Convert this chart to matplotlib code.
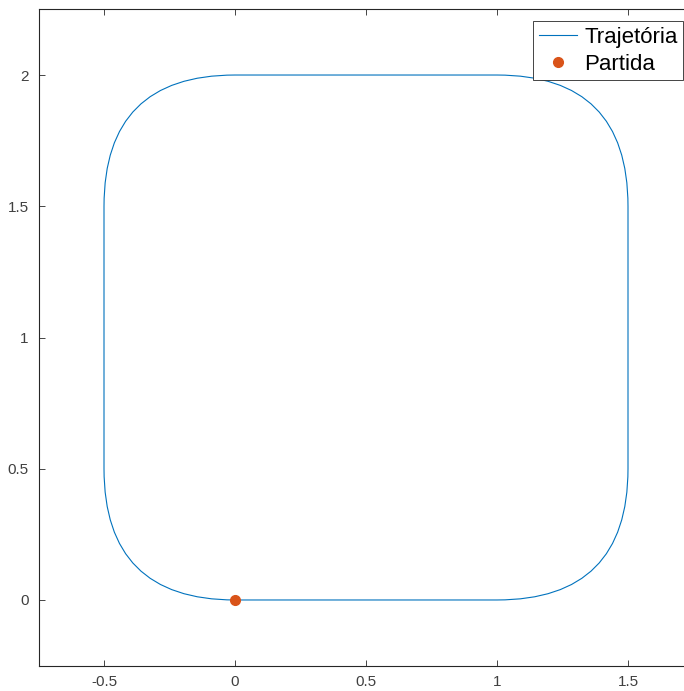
import matplotlib
matplotlib.use("Agg")
import matplotlib.pyplot as plt
from matplotlib.patches import FancyBboxPatch
from matplotlib.lines import Line2D

plt.rcParams['font.family'] = ['Liberation Sans', 'DejaVu Sans']

# trajectory: rounded square (corner, size, corner radius)
box_x0, box_y0 = -0.5, 0.0
box_w, box_h = 2.0, 2.0
corner_r = 0.5
start_x = [0.0]
start_y = [0.0]

xticks = [-0.5, 0, 0.5, 1, 1.5]
xticklabels = ['-0.5', '0', '0.5', '1', '1.5']
yticks = [0, 0.5, 1, 1.5, 2]
yticklabels = ['0', '0.5', '1', '1.5', '2']

blue = '#0072BD'
orange = '#D95319'
axc = '#262626'

fig = plt.figure(figsize=(6.84, 6.91), dpi=100)
# axes box runs slightly past the right edge (cropped like the reference)
ax = fig.add_axes([38.5 / 684, 1 - 665.6 / 691, 655 / 684, 656.2 / 691])

traj = FancyBboxPatch((box_x0, box_y0), box_w, box_h,
                      boxstyle="round,pad=0,rounding_size=%g" % corner_r,
                      fill=False, edgecolor=blue, linewidth=0.8)
ax.add_patch(traj)
ax.plot(start_x, start_y, 'o', color=orange, markersize=7)

ax.set_xlim(-0.75, 1.75)
ax.set_ylim(-0.25, 2.25)
ax.set_xticks(xticks)
ax.set_xticklabels(xticklabels)
ax.set_yticks(yticks)
ax.set_yticklabels(yticklabels)
ax.tick_params(direction='in', length=4, width=0.6, color=axc, labelcolor='#404040',
               labelsize=11, top=True, right=True, pad=7)
for s in ax.spines.values():
    s.set_color(axc)
    s.set_linewidth(0.8)

handles = [Line2D([], [], color=blue, linewidth=0.8),
           Line2D([], [], marker='o', linestyle='none', color=orange, markersize=7)]
leg = ax.legend(handles, ['Trajetória', 'Partida'], loc='upper right',
                bbox_to_anchor=(683 / 684, 1 - 21 / 691), bbox_transform=fig.transFigure,
                fontsize=16, fancybox=False, framealpha=1, edgecolor=axc,
                handlelength=1.75, handletextpad=0.3, borderpad=0.25,
                labelspacing=0.28, borderaxespad=0)
leg.get_frame().set_linewidth(0.6)

fig.savefig('out.png', dpi=100)
